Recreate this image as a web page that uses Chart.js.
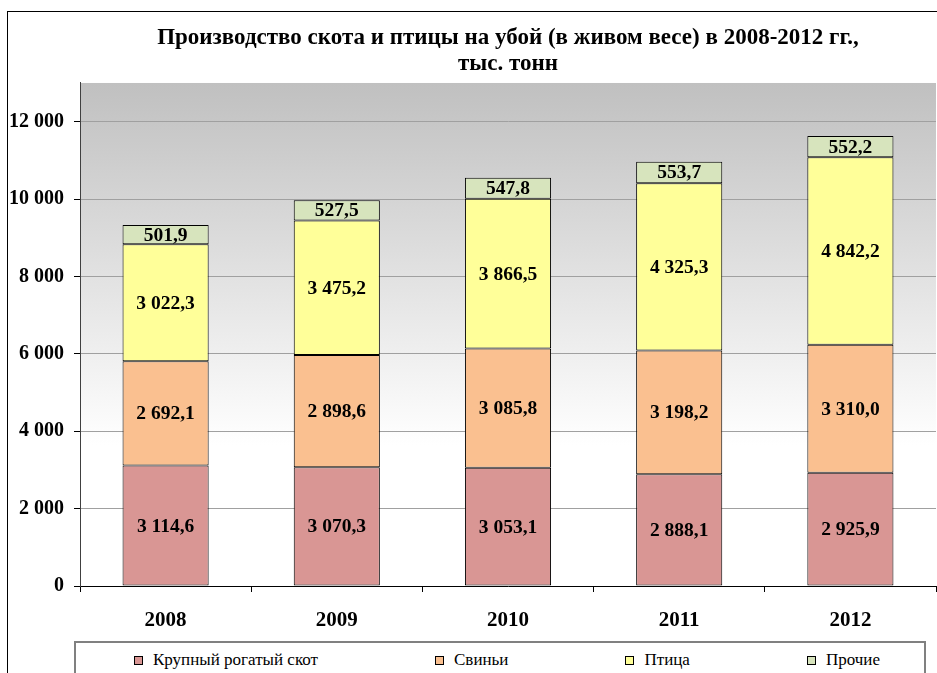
<!DOCTYPE html>
<html lang="ru">
<head>
<meta charset="utf-8">
<title>Производство скота и птицы на убой</title>
<script src="https://cdn.jsdelivr.net/npm/chart.js@4/dist/chart.umd.min.js"></script>
<style>
    html, body { margin: 0; padding: 0; background: #fff; overflow: hidden; }
    #ramka {
        position: absolute; left: 7px; top: 11px;
        width: 960px; height: 700px;
        border: 1px solid #000;
    }
    #chart { display: block; }
    #legenda {
        position: absolute; left: 74px; top: 641px;
        width: 852px; height: 50px;
        border: 2px solid #808080;
        box-sizing: border-box;
        font: 17px "Liberation Serif", "Times New Roman", serif;
        color: #000;
        display: flex; align-items: flex-start;
        padding: 7px 0 0 58px;
        gap: 117px;
    }
    .pozycja { display: flex; align-items: center; white-space: nowrap; }
    .znacznik {
        width: 7px; height: 7px; border: 1px solid #000;
        margin-right: 10px;
    }
</style>
</head>
<body>
<div id="ramka">
    <canvas id="chart" width="952" height="628"></canvas>
</div>
<div id="legenda"></div>

<script>
// Dane (тыс. тонн)
const lata = ['2008', '2009', '2010', '2011', '2012'];
const krs = [3114.6, 3070.3, 3053.1, 2888.1, 2925.9];
const swinie = [2692.1, 2898.6, 3085.8, 3198.2, 3310.0];
const ptica = [3022.3, 3475.2, 3866.5, 4325.3, 4842.2];
const prochie = [501.9, 527.5, 547.8, 553.7, 552.2];
const osY = [0, 2000, 4000, 6000, 8000, 10000, 12000];

const nazwySerii = ['Крупный рогатый скот', 'Свиньи', 'Птица', 'Прочие'];
const koloryS = ['#D99694', '#FAC090', '#FFFF99', '#D7E4BD'];

const czcionka = '"Liberation Serif", "Times New Roman", serif';

// 3114.6 -> "3 114,6"
function formatuj(v, miejsca) {
    const s = v.toFixed(miejsca);
    const [cal, ul] = s.split('.');
    const calF = cal.replace(/\B(?=(\d{3})+(?!\d))/g, ' ');
    return ul ? calF + ',' + ul : calF;
}

// Gradient tła obszaru wykresu
const tloPlugin = {
    id: 'tlo',
    beforeDraw(chart) {
        const { ctx, chartArea: a } = chart;
        const g = ctx.createLinearGradient(0, a.top, 0, a.bottom);
        g.addColorStop(0, '#C0C0C0');
        g.addColorStop(0.72, '#FFFFFF');
        g.addColorStop(1, '#FFFFFF');
        ctx.save();
        ctx.fillStyle = g;
        ctx.fillRect(a.left, a.top, a.right - a.left, a.bottom - a.top);
        ctx.restore();
    }
};

// Etykiety wartości na środku segmentów
const etykietyPlugin = {
    id: 'etykiety',
    afterDatasetsDraw(chart) {
        const ctx = chart.ctx;
        ctx.save();
        ctx.font = 'bold 19.5px ' + czcionka;
        ctx.fillStyle = '#000';
        ctx.textAlign = 'center';
        ctx.textBaseline = 'middle';
        chart.data.datasets.forEach((ds, i) => {
            const meta = chart.getDatasetMeta(i);
            meta.data.forEach((el, j) => {
                const y = (el.y + el.base) / 2;
                ctx.fillText(formatuj(ds.data[j], 1), el.x, y + 1);
            });
        });
        ctx.restore();
    }
};

const serie = [krs, swinie, ptica, prochie];

const wykres = new Chart(document.getElementById('chart'), {
    type: 'bar',
    data: {
        labels: lata,
        datasets: serie.map((d, i) => ({
            label: nazwySerii[i],
            data: d,
            backgroundColor: koloryS[i],
            borderColor: '#000',
            borderWidth: 1,
            borderSkipped: false,
            categoryPercentage: 1,
            barPercentage: 0.503
        }))
    },
    options: {
        responsive: false,
        animation: false,
        layout: { padding: { left: 0, right: 24, top: 0, bottom: 0 } },
        plugins: {
            legend: { display: false },
            tooltip: { enabled: false },
            title: {
                display: true,
                fullSize: false,
                text: ['Производство скота и птицы на убой (в живом весе) в 2008-2012 гг.,', 'тыс. тонн'],
                color: '#000',
                font: { family: czcionka, size: 23, weight: 'bold', lineHeight: 1.13 },
                padding: { top: 13, bottom: 6 }
            }
        },
        scales: {
            x: {
                stacked: true,
                afterFit(scale) { scale.height = 54; },
                border: { color: '#000', width: 1 },
                grid: {
                    offset: true,
                    drawOnChartArea: false,
                    drawTicks: true,
                    tickLength: 6,
                    tickColor: '#000'
                },
                ticks: {
                    color: '#000',
                    padding: 16,
                    font: { family: czcionka, size: 21, weight: 'bold' }
                }
            },
            y: {
                stacked: true,
                min: 0,
                max: 13000,
                afterFit(scale) { scale.width = 72; },
                afterBuildTicks(scale) { scale.ticks = osY.map(v => ({ value: v })); },
                border: { color: '#404040', width: 1 },
                grid: {
                    color: '#A0A0A0',
                    tickColor: '#000',
                    tickLength: 6
                },
                ticks: {
                    color: '#000',
                    padding: 10,
                    font: { family: czcionka, size: 20, weight: 'bold' },
                    callback: v => formatuj(v, 0)
                }
            }
        }
    },
    plugins: [tloPlugin, etykietyPlugin]
});

// Legenda HTML
const legenda = document.getElementById('legenda');
wykres.data.datasets.forEach(ds => {
    const poz = document.createElement('div');
    poz.className = 'pozycja';
    poz.innerHTML = `<span class="znacznik" style="background:${ds.backgroundColor}"></span><span>${ds.label}</span>`;
    legenda.appendChild(poz);
});
</script>
</body>
</html>
